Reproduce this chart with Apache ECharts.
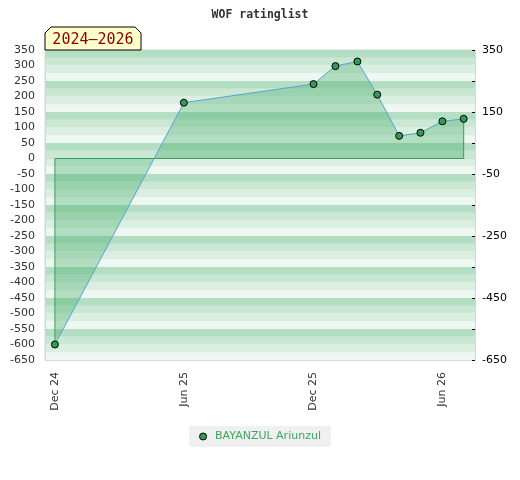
<!DOCTYPE html>
<html lang="en">
<head>
    <meta charset="utf-8">
    <script src="https://cdn.jsdelivr.net/npm/echarts@6/dist/echarts.min.js"></script>
    <style>
        html, body { margin: 0; padding: 0; background: #fff; }
        #chart { width: 520px; height: 480px; }
    </style>
</head>
<body>
<div id="chart"></div>

<script type="text/javascript">
    // rating history, one point per list
    var playerName = 'BAYANZUL Ariunzul';
    var listDates = ['2024-12-01', '2025-06-01', '2025-12-01', '2026-01-01', '2026-02-01',
        '2026-03-01', '2026-04-01', '2026-05-01', '2026-06-01', '2026-07-01'];
    var ratings = [-600, 180, 240, 298, 313, 206, 73, 83, 120, 128];
    var xTickDates = ['2024-12-01', '2025-06-01', '2025-12-01', '2026-06-01'];
    var monthNames = ['Jan', 'Feb', 'Mar', 'Apr', 'May', 'Jun', 'Jul', 'Aug', 'Sep', 'Oct', 'Nov', 'Dec'];

    function toTime(s) {
        var p = s.split('-');
        return new Date(+p[0], p[1] - 1, +p[2]).getTime();
    }

    var chart = echarts.init(document.getElementById('chart'));

    var points = listDates.map(function (d, i) {
        return [toTime(d), ratings[i]];
    });
    var first = points[0], last = points[points.length - 1];
    // outline of the filled area (down to zero and back up)
    var outline = [first, [first[0], 0], [last[0], 0], last];

    var option = {
        animation: false,
        title: {
            text: 'WOF ratinglist',
            left: 'center',
            top: 4,
            textStyle: {fontFamily: 'DejaVu Sans Mono', fontSize: 11.5, fontWeight: 'bold', color: '#333'}
        },
        legend: {
            data: [playerName],
            bottom: 33,
            left: 'center',
            icon: 'circle',
            itemWidth: 14,
            itemHeight: 7,
            itemStyle: {borderColor: '#000', borderWidth: 1},
            backgroundColor: '#f0f0f0',
            padding: [5, 10],
            textStyle: {fontFamily: 'DejaVu Sans', fontSize: 11, color: '#3aa65a'}
        },
        grid: {
            left: 45, right: 45, top: 50, bottom: 120,
            show: true, borderColor: '#d6d6d6', borderWidth: 1
        },
        graphic: [{
            type: 'polygon',
            shape: {points: [[45, 33], [51, 27], [135, 27], [141, 33], [141, 50], [45, 50]]},
            style: {fill: '#ffffcc', stroke: '#000', lineWidth: 1},
            z: 10
        }, {
            type: 'text',
            x: 93, y: 40,
            style: {
                text: '2024–2026', fill: '#8b0000', font: '15px "DejaVu Sans Mono"',
                align: 'center', verticalAlign: 'middle'
            },
            z: 11
        }],
        xAxis: {
            type: 'value',
            min: toTime('2024-11-17'),
            max: toTime('2026-07-17'),
            axisLine: {lineStyle: {color: '#d6d6d6'}},
            axisTick: {show: false},
            splitLine: {show: false},
            axisLabel: {
                rotate: 90,
                margin: 12,
                fontFamily: 'DejaVu Sans',
                fontSize: 11,
                color: '#333',
                customValues: xTickDates.map(toTime),
                formatter: function (v) {
                    var d = new Date(v);
                    return monthNames[d.getMonth()] + ' ' + String(d.getFullYear()).slice(2);
                }
            }
        },
        yAxis: [{
            type: 'value',
            position: 'left',
            min: -650, max: 350, interval: 50,
            axisLine: {show: true, lineStyle: {color: '#d6d6d6'}},
            axisTick: {show: false},
            splitLine: {show: false},
            axisLabel: {margin: 10, fontFamily: 'DejaVu Sans', fontSize: 11, color: '#333'}
        }, {
            type: 'value',
            position: 'right',
            min: -650, max: 350, interval: 100,
            axisLine: {show: true, lineStyle: {color: '#d6d6d6'}},
            axisTick: {show: true, inside: true, length: 3, lineStyle: {color: '#000'}},
            splitLine: {show: true, lineStyle: {color: '#d8d8d8', width: 1}},
            axisLabel: {
                margin: 7, fontFamily: 'DejaVu Sans', fontSize: 11, color: '#000',
                formatter: function (v) {
                    return (v + 650) % 200 === 0 ? String(v) : '';
                }
            }
        }, {
            // background stripes
            type: 'value',
            position: 'left',
            min: -650, max: 350, interval: 25,
            axisLine: {show: false},
            axisTick: {show: false},
            axisLabel: {show: false},
            splitLine: {show: false},
            splitArea: {
                show: true,
                areaStyle: {color: ['#eef7f1', '#dbeee2', '#c9e7d3', '#b3dec3']}
            }
        }],
        series: [{
            name: 'outline',
            type: 'line',
            data: outline,
            symbol: 'none',
            silent: true,
            lineStyle: {color: '#3a9a5a', width: 1},
            z: 2
        }, {
            name: playerName,
            type: 'line',
            data: points,
            symbol: 'circle',
            symbolSize: 7,
            itemStyle: {color: '#2e9e55', borderColor: '#000', borderWidth: 1},
            lineStyle: {color: '#5aa0d8', width: 1},
            areaStyle: {color: 'rgba(69, 172, 106, 0.5)'},
            z: 3
        }]
    };

    chart.setOption(option);
</script>
</body>
</html>
